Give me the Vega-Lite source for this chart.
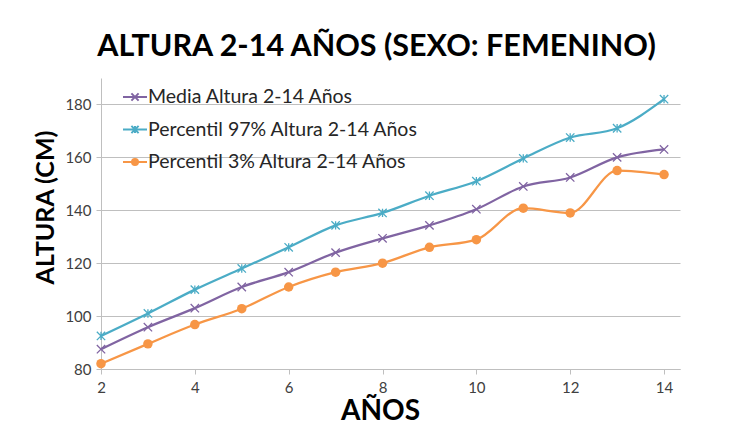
{
  "$schema": "https://vega.github.io/schema/vega-lite/v6.json",
  "width": 579,
  "height": 291,
  "autosize": "none",
  "padding": {"left": 101, "top": 78, "right": 56, "bottom": 56},
  "background": "white",
  "config": {
    "font": "Lato",
    "view": {"stroke": null}
  },
  "title": {
    "text": "ALTURA 2-14 AÑOS (SEXO: FEMENINO)",
    "font": "Lato",
    "fontSize": 30.5,
    "fontWeight": "bold",
    "color": "#000000",
    "anchor": "middle",
    "frame": "group",
    "dx": -14,
    "dy": 26,
    "baseline": "alphabetic",
    "offset": 18
  },
  "data": {
    "values": [
      {"serie": "Media Altura 2-14 Años", "edad": 2, "altura": 87.5},
      {"serie": "Media Altura 2-14 Años", "edad": 3, "altura": 95.8},
      {"serie": "Media Altura 2-14 Años", "edad": 4, "altura": 103},
      {"serie": "Media Altura 2-14 Años", "edad": 5, "altura": 111},
      {"serie": "Media Altura 2-14 Años", "edad": 6, "altura": 116.6},
      {"serie": "Media Altura 2-14 Años", "edad": 7, "altura": 124},
      {"serie": "Media Altura 2-14 Años", "edad": 8, "altura": 129.4},
      {"serie": "Media Altura 2-14 Años", "edad": 9, "altura": 134.3},
      {"serie": "Media Altura 2-14 Años", "edad": 10, "altura": 140.4},
      {"serie": "Media Altura 2-14 Años", "edad": 11, "altura": 149},
      {"serie": "Media Altura 2-14 Años", "edad": 12, "altura": 152.4},
      {"serie": "Media Altura 2-14 Años", "edad": 13, "altura": 160},
      {"serie": "Media Altura 2-14 Años", "edad": 14, "altura": 163},
      {"serie": "Percentil 97% Altura 2-14 Años", "edad": 2, "altura": 92.5},
      {"serie": "Percentil 97% Altura 2-14 Años", "edad": 3, "altura": 101},
      {"serie": "Percentil 97% Altura 2-14 Años", "edad": 4, "altura": 110},
      {"serie": "Percentil 97% Altura 2-14 Años", "edad": 5, "altura": 118},
      {"serie": "Percentil 97% Altura 2-14 Años", "edad": 6, "altura": 126},
      {"serie": "Percentil 97% Altura 2-14 Años", "edad": 7, "altura": 134.3},
      {"serie": "Percentil 97% Altura 2-14 Años", "edad": 8, "altura": 139},
      {"serie": "Percentil 97% Altura 2-14 Años", "edad": 9, "altura": 145.5},
      {"serie": "Percentil 97% Altura 2-14 Años", "edad": 10, "altura": 151},
      {"serie": "Percentil 97% Altura 2-14 Años", "edad": 11, "altura": 159.6},
      {"serie": "Percentil 97% Altura 2-14 Años", "edad": 12, "altura": 167.5},
      {"serie": "Percentil 97% Altura 2-14 Años", "edad": 13, "altura": 171},
      {"serie": "Percentil 97% Altura 2-14 Años", "edad": 14, "altura": 182},
      {"serie": "Percentil 3% Altura 2-14 Años", "edad": 2, "altura": 82},
      {"serie": "Percentil 3% Altura 2-14 Años", "edad": 3, "altura": 89.5},
      {"serie": "Percentil 3% Altura 2-14 Años", "edad": 4, "altura": 96.8},
      {"serie": "Percentil 3% Altura 2-14 Años", "edad": 5, "altura": 102.8},
      {"serie": "Percentil 3% Altura 2-14 Años", "edad": 6, "altura": 111},
      {"serie": "Percentil 3% Altura 2-14 Años", "edad": 7, "altura": 116.6},
      {"serie": "Percentil 3% Altura 2-14 Años", "edad": 8, "altura": 120},
      {"serie": "Percentil 3% Altura 2-14 Años", "edad": 9, "altura": 126},
      {"serie": "Percentil 3% Altura 2-14 Años", "edad": 10, "altura": 128.9},
      {"serie": "Percentil 3% Altura 2-14 Años", "edad": 11, "altura": 140.8},
      {"serie": "Percentil 3% Altura 2-14 Años", "edad": 12, "altura": 139},
      {"serie": "Percentil 3% Altura 2-14 Años", "edad": 13, "altura": 155},
      {"serie": "Percentil 3% Altura 2-14 Años", "edad": 14, "altura": 153.5}
    ]
  },
  "encoding": {
    "x": {
      "field": "edad",
      "type": "quantitative",
      "scale": {"domain": [2, 14.34], "nice": false, "zero": false},
      "axis": {
        "title": "AÑOS",
        "titleFont": "Lato",
        "titleFontSize": 28,
        "titleFontWeight": "bold",
        "titleColor": "#000000",
        "titleX": 279,
        "titleY": 56,
        "titleBaseline": "bottom",
        "titleAlign": "center",
        "values": [2, 4, 6, 8, 10, 12, 14],
        "grid": false,
        "domainColor": "#BFBFBF",
        "domainWidth": 1,
        "tickColor": "#BFBFBF",
        "tickSize": 5,
        "labelFontSize": 15,
        "labelColor": "#404040",
        "labelPadding": 6,
        "labelFlush": false
      }
    },
    "y": {
      "field": "altura",
      "type": "quantitative",
      "scale": {"domain": [80, 190], "nice": false, "zero": false},
      "axis": {
        "title": "ALTURA (CM)",
        "titleFont": "Lato",
        "titleFontSize": 25,
        "titleFontWeight": "bold",
        "titleColor": "#000000",
        "titleAngle": -90,
        "titleX": -56,
        "titleY": 129,
        "titleBaseline": "middle",
        "titleAlign": "center",
        "values": [80, 100, 120, 140, 160, 180],
        "grid": true,
        "gridColor": "#BFBFBF",
        "gridWidth": 1,
        "domainColor": "#BFBFBF",
        "domainWidth": 1,
        "tickColor": "#BFBFBF",
        "tickSize": 5,
        "labelFontSize": 15,
        "labelColor": "#404040",
        "labelPadding": 5
      }
    },
    "color": {
      "field": "serie",
      "type": "nominal",
      "sort": ["Media Altura 2-14 Años", "Percentil 97% Altura 2-14 Años", "Percentil 3% Altura 2-14 Años"],
      "scale": {
        "domain": ["Media Altura 2-14 Años", "Percentil 97% Altura 2-14 Años", "Percentil 3% Altura 2-14 Años"],
        "range": ["#8064A2", "#4BACC6", "#F79646"]
      },
      "legend": {
        "title": null,
        "orient": "none",
        "legendX": 21,
        "legendY": 6,
        "symbolSize": 576,
        "symbolStrokeWidth": 2,
        "labelFontSize": 19.5,
        "labelColor": "#262626",
        "labelOffset": 0,
        "labelLimit": 400,
        "rowPadding": 9.5,
        "encode": {
          "symbols": {
            "update": {
              "shape": {"signal": "datum.value == 'Media Altura 2-14 Años' ? 'M-1,0H1M-0.3,-0.3L0.3,0.3M-0.3,0.3L0.3,-0.3' : datum.value == 'Percentil 97% Altura 2-14 Años' ? 'M-1,0H1M-0.3,-0.3L0.3,0.3M-0.3,0.3L0.3,-0.3M0,-0.3V0.3' : 'M-1,0H1M0.25,0A0.25,0.25 0 1,1 -0.25,0A0.25,0.25 0 1,1 0.25,0Z'"},
              "fillOpacity": {"signal": "datum.value == 'Percentil 3% Altura 2-14 Años' ? 1 : 0"}
            }
          }
        }
      }
    }
  },
  "layer": [
    {
      "mark": {"type": "line", "interpolate": "monotone", "strokeWidth": 2.25}
    },
    {
      "transform": [{"filter": "datum.serie == 'Media Altura 2-14 Años'"}],
      "mark": {"type": "point", "filled": false, "strokeWidth": 1.3, "opacity": 1, "size": 70, "shape": "M-1,-1L1,1M-1,1L1,-1"}
    },
    {
      "transform": [{"filter": "datum.serie == 'Percentil 97% Altura 2-14 Años'"}],
      "mark": {"type": "point", "filled": false, "strokeWidth": 1.3, "opacity": 1, "size": 70, "shape": "M-1,-1L1,1M-1,1L1,-1M0,-1V1"}
    },
    {
      "transform": [{"filter": "datum.serie == 'Percentil 3% Altura 2-14 Años'"}],
      "mark": {"type": "circle", "size": 90, "opacity": 1}
    }
  ]
}
